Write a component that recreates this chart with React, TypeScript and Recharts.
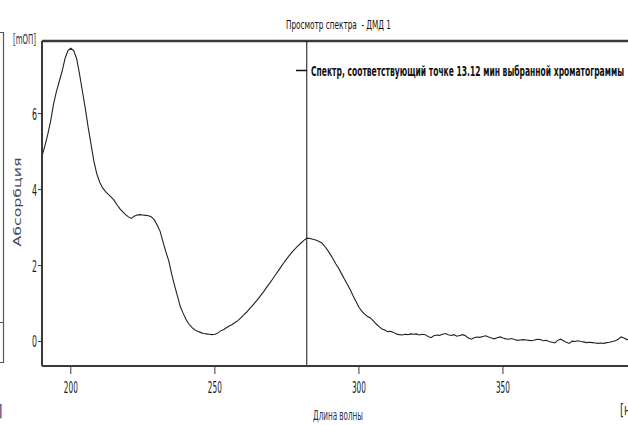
import React from "react";
import { LineChart, Line, XAxis, YAxis, ReferenceLine } from "recharts";

const wavelengths: number[] = [
  190, 191, 192, 193, 194, 195, 196, 197, 198, 199,
  200, 201, 202, 203, 204, 205, 206, 207, 208, 209,
  210, 211, 212, 213, 214, 215, 216, 217, 218, 219,
  220, 221, 222, 223, 224, 225, 226, 227, 228, 229,
  230, 231, 232, 233, 234, 235, 236, 237, 238, 239,
  240, 241, 242, 243, 244, 245, 246, 247, 248, 249,
  250, 251, 252, 253, 254, 255, 256, 257, 258, 259,
  260, 261, 262, 263, 264, 265, 266, 267, 268, 269,
  270, 271, 272, 273, 274, 275, 276, 277, 278, 279,
  280, 281, 282, 283, 284, 285, 286, 287, 288, 289,
  290, 291, 292, 293, 294, 295, 296, 297, 298, 299,
  300, 301, 302, 303, 304, 305, 306, 307, 308, 309,
  310, 311, 312, 313, 314, 315, 316, 317, 318, 319,
  320, 321, 322, 323, 324, 325, 326, 327, 328, 329,
  330, 331, 332, 333, 334, 335, 336, 337, 338, 339,
  340, 341, 342, 343, 344, 345, 346, 347, 348, 349,
  350, 351, 352, 353, 354, 355, 356, 357, 358, 359,
  360, 361, 362, 363, 364, 365, 366, 367, 368, 369,
  370, 371, 372, 373, 374, 375, 376, 377, 378, 379,
  380, 381, 382, 383, 384, 385, 386, 387, 388, 389,
  390, 391, 392, 393, 394,
];

const absorbance: number[] = [
  4.88, 5.15, 5.45, 5.8, 6.25, 6.58, 6.85, 7.12, 7.45, 7.66,
  7.72, 7.66, 7.45, 7.05, 6.6, 6.15, 5.65, 5.2, 4.75, 4.42,
  4.2, 4.05, 3.95, 3.87, 3.8, 3.72, 3.6, 3.5, 3.42, 3.34,
  3.28, 3.24, 3.3, 3.33, 3.34, 3.33, 3.32, 3.31, 3.28, 3.2,
  3.06, 2.9, 2.62, 2.36, 2.12, 1.78, 1.48, 1.2, 0.92, 0.74,
  0.58, 0.46, 0.37, 0.31, 0.27, 0.24, 0.21, 0.2, 0.19, 0.18,
  0.19, 0.22, 0.28, 0.31, 0.36, 0.41, 0.45, 0.5, 0.55, 0.62,
  0.7, 0.77, 0.86, 0.94, 1.03, 1.12, 1.22, 1.32, 1.43, 1.53,
  1.64, 1.75, 1.86, 1.97, 2.08, 2.18, 2.28, 2.37, 2.45, 2.53,
  2.6, 2.67, 2.72, 2.71, 2.69, 2.67, 2.64, 2.6, 2.52, 2.42,
  2.3, 2.18, 2.04, 1.92, 1.78, 1.64, 1.5, 1.36, 1.2, 1.05,
  0.9, 0.8, 0.72, 0.66, 0.62, 0.54, 0.46, 0.39, 0.33, 0.3,
  0.26, 0.27, 0.24, 0.2, 0.18, 0.17, 0.19, 0.18, 0.2, 0.19,
  0.2, 0.17, 0.19, 0.18, 0.13, 0.1, 0.15, 0.17, 0.16, 0.19,
  0.21, 0.18, 0.16, 0.18, 0.14, 0.16, 0.18, 0.15, 0.09, 0.06,
  0.1, 0.12, 0.11, 0.13, 0.15, 0.12, 0.09, 0.07, 0.1, 0.12,
  0.09, 0.07, 0.06, 0.08, 0.05, 0.03, 0.04, 0.05, 0.04, 0.03,
  0.02, 0.04, 0.06, 0.05, 0.02, 0.03, 0.0, -0.02, -0.04, 0.03,
  0.06, 0.02, -0.02, -0.05, 0.01, 0.0, 0.02, 0.0, -0.01, -0.03,
  -0.02, -0.03, -0.04, -0.05, -0.04, -0.05, -0.03, -0.02, 0.0, 0.02,
  0.06, 0.12, 0.09, 0.05, 0.06,
];

const xTicks: number[] = [200, 250, 300, 350];
const yTicks: number[] = [0, 2, 4, 6];
const xDomain: [number, number] = [190, 393.4];
const yDomain: [number, number] = [-0.645, 7.91];
const cursorWavelength = 281.9;

const titleText = "Просмотр спектра\u00a0 - ДМД 1";
const legendText = "Спектр, соответствующий точке 13.12 мин выбранной хроматограммы";
const yLabelText = "Абсорбция";
const yUnitText = "[mОП]";
const xLabelText = "Длина волны";
const xUnitText = "[нм]";

const data = wavelengths.map((w, i) => ({ w, a: absorbance[i] }));

const FONT = "'Liberation Sans Narrow', 'DejaVu Sans Condensed', 'Liberation Sans', sans-serif";

const XTick = (props: any) => {
  const { x, y, payload } = props;
  return (
    <text
      x={x}
      y={y + 17}
      textAnchor="middle"
      fontFamily={FONT}
      fontSize={16}
      fill="#1a1a1a"
      textLength={14}
      lengthAdjust="spacingAndGlyphs"
    >
      {payload.value}
    </text>
  );
};

const YTick = (props: any) => {
  const { x, y, payload } = props;
  return (
    <text
      x={x + 1}
      y={y + 6}
      textAnchor="end"
      fontFamily={FONT}
      fontSize={16}
      fill="#1a1a1a"
      textLength={5}
      lengthAdjust="spacingAndGlyphs"
    >
      {payload.value}
    </text>
  );
};

export default function App() {
  return (
    <div
      style={{
        position: "absolute",
        left: 0,
        top: 0,
        width: 628,
        height: 425,
        overflow: "hidden",
        background: "#fff",
      }}
    >
      <LineChart
        width={628}
        height={425}
        data={data}
        margin={{ top: 41, right: 0, bottom: 0, left: 0 }}
      >
        <XAxis
          dataKey="w"
          type="number"
          domain={xDomain}
          ticks={xTicks}
          allowDataOverflow
          height={59}
          tickSize={8}
          tick={<XTick />}
          axisLine={{ stroke: "#3a3a3a", strokeWidth: 2 }}
          tickLine={{ stroke: "#3a3a3a", strokeWidth: 1 }}
        />
        <YAxis
          type="number"
          domain={yDomain}
          ticks={yTicks}
          allowDataOverflow
          width={42}
          tickSize={4}
          tick={<YTick />}
          axisLine={{ stroke: "#3a3a3a", strokeWidth: 2 }}
          tickLine={{ stroke: "#3a3a3a", strokeWidth: 1 }}
        />
        <ReferenceLine y={yDomain[1]} stroke="#3a3a3a" strokeWidth={2.5} />
        <ReferenceLine x={cursorWavelength} stroke="#111" strokeWidth={1} />
        <Line
          dataKey="a"
          type="linear"
          stroke="#222"
          strokeWidth={1.1}
          dot={false}
          isAnimationActive={false}
        />
      </LineChart>
      <svg
        width={628}
        height={425}
        style={{ position: "absolute", left: 0, top: 0, pointerEvents: "none" }}
      >
        <text
          x={286}
          y={29}
          fontFamily={FONT}
          fontSize={12.5}
          fill="#111"
          textLength={105}
          lengthAdjust="spacingAndGlyphs"
        >
          {titleText}
        </text>
        <line x1={296} y1={70.5} x2={307} y2={70.5} stroke="#111" strokeWidth={1.5} />
        <text
          x={311}
          y={76}
          fontFamily={FONT}
          fontSize={14}
          fontWeight="bold"
          fill="#111"
          textLength={313}
          lengthAdjust="spacingAndGlyphs"
        >
          {legendText}
        </text>
        <text
          x={13}
          y={44}
          fontFamily={FONT}
          fontSize={14.5}
          fill="#2d2d50"
          textLength={23}
          lengthAdjust="spacingAndGlyphs"
        >
          {yUnitText}
        </text>
        <text
          x={0}
          y={0}
          transform="translate(21,202) rotate(-90)"
          textAnchor="middle"
          fontFamily="'DejaVu Sans', sans-serif"
          fontSize={10.5}
          fill="#44445e"
          textLength={89}
          lengthAdjust="spacingAndGlyphs"
        >
          {yLabelText}
        </text>
        <text
          x={338}
          y={420}
          textAnchor="middle"
          fontFamily={FONT}
          fontSize={14}
          fill="#2d2d50"
          textLength={50}
          lengthAdjust="spacingAndGlyphs"
        >
          {xLabelText}
        </text>
        <text
          x={620}
          y={415}
          fontFamily={FONT}
          fontSize={15}
          fill="#2d2d50"
          textLength={22}
          lengthAdjust="spacingAndGlyphs"
        >
          {xUnitText}
        </text>
        <line x1={3.5} y1={32} x2={3.5} y2={363} stroke="#555" strokeWidth={1.2} />
        <line x1={0} y1={32.5} x2={4} y2={32.5} stroke="#555" strokeWidth={1} />
        <line x1={0} y1={322.5} x2={4} y2={322.5} stroke="#555" strokeWidth={1} />
        <line x1={0} y1={362.5} x2={4} y2={362.5} stroke="#555" strokeWidth={1} />
        <text x={-3} y={416} fontFamily={FONT} fontSize={16} fill="#5a4a7a">
          ]
        </text>
      </svg>
    </div>
  );
}
